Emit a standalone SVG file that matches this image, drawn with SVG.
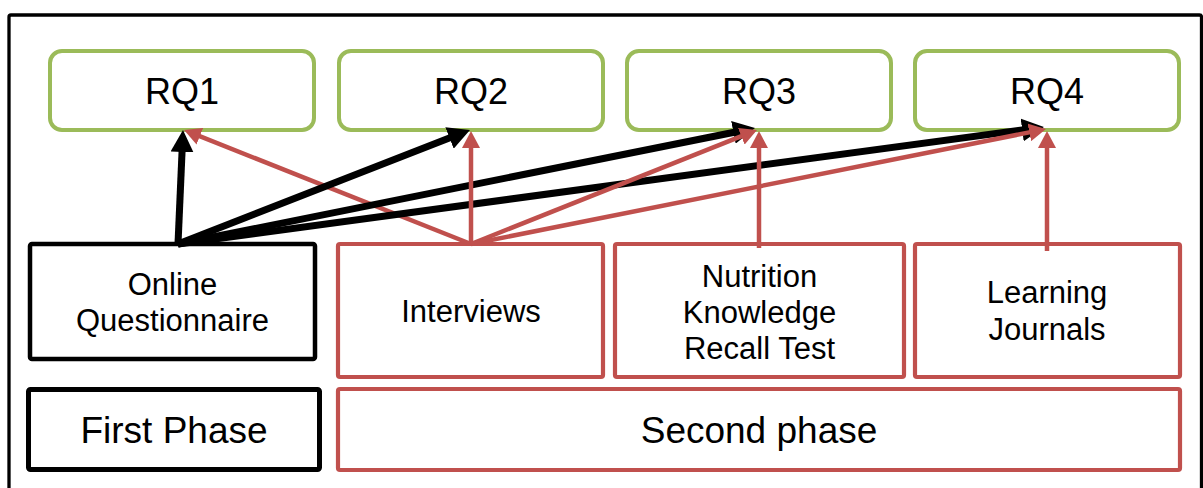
<svg xmlns="http://www.w3.org/2000/svg" width="1203" height="488" viewBox="0 0 1203 488">
  <style>
    .frame { fill: #ffffff; stroke: #000000; stroke-width: 3.3; }
    .rq { fill: #ffffff; stroke: #9BBB59; stroke-width: 4; }
    .method-black { fill: #ffffff; stroke: #000000; stroke-width: 4.5; stroke-linejoin: round; }
    .method-red { fill: #ffffff; stroke: #C0504D; stroke-width: 4.2; stroke-linejoin: round; }
    .phase-black { fill: #ffffff; stroke: #000000; stroke-width: 5; stroke-linejoin: round; }
    .label { font-family: "Liberation Sans", Arial, sans-serif; fill: #000000; text-anchor: middle; }
    .big { font-size: 36px; }
    .phase { font-size: 37px; }
    .small { font-size: 31px; }
    .link-black { stroke: #000000; stroke-width: 7; fill: none; marker-end: url(#head-black); }
    .link-red { stroke: #C0504D; stroke-width: 4.5; fill: none; marker-end: url(#head-red); }
  </style>
  <defs>
    <marker id="head-black" markerUnits="userSpaceOnUse" markerWidth="22" markerHeight="23" refX="6" refY="11.5" orient="auto">
      <path d="M0,0 L22,11.5 L0,23 z" fill="#000000"/>
    </marker>
    <marker id="head-red" markerUnits="userSpaceOnUse" markerWidth="17" markerHeight="18" refX="5" refY="9" orient="auto">
      <path d="M0,0 L17,9 L0,18 z" fill="#C0504D"/>
    </marker>
  </defs>

  <!-- outer frame -->
  <rect class="frame" x="9" y="15" width="1192.5" height="500" rx="2"/>

  <!-- research questions -->
  <g id="rq1">
    <rect class="rq" x="50" y="51" width="264" height="79" rx="12"/>
    <text class="label big" x="182" y="104">RQ1</text>
  </g>
  <g id="rq2">
    <rect class="rq" x="339" y="51" width="264" height="79" rx="12"/>
    <text class="label big" x="471" y="104">RQ2</text>
  </g>
  <g id="rq3">
    <rect class="rq" x="627" y="51" width="264" height="79" rx="12"/>
    <text class="label big" x="759" y="104">RQ3</text>
  </g>
  <g id="rq4">
    <rect class="rq" x="915" y="51" width="264" height="79" rx="12"/>
    <text class="label big" x="1047" y="104">RQ4</text>
  </g>

  <!-- data collection methods -->
  <g id="online-questionnaire">
    <rect class="method-black" x="30" y="244" width="285" height="115" rx="2"/>
    <text class="label small" x="172.5" y="295">Online</text>
    <text class="label small" x="172.5" y="331">Questionnaire</text>
  </g>
  <g id="interviews">
    <rect class="method-red" x="338" y="244" width="265" height="133" rx="2"/>
    <text class="label small" x="471" y="322">Interviews</text>
  </g>
  <g id="nutrition-test">
    <rect class="method-red" x="615" y="244" width="289" height="133" rx="2"/>
    <text class="label small" x="759.5" y="287">Nutrition</text>
    <text class="label small" x="759.5" y="323">Knowledge</text>
    <text class="label small" x="759.5" y="359">Recall Test</text>
  </g>
  <g id="learning-journals">
    <rect class="method-red" x="915" y="244" width="265" height="133" rx="2"/>
    <text class="label small" x="1047" y="303">Learning</text>
    <text class="label small" x="1047" y="340">Journals</text>
  </g>

  <!-- phases -->
  <g id="first-phase">
    <rect class="phase-black" x="28.5" y="389.5" width="291" height="80" rx="2"/>
    <text class="label phase" x="174" y="443">First Phase</text>
  </g>
  <g id="second-phase">
    <rect class="method-red" x="338" y="389" width="842" height="81" rx="2"/>
    <text class="label phase" x="759" y="443">Second phase</text>
  </g>

  <!-- connectors -->
  <g id="connectors">
    <line class="link-red" x1="471" y1="244" x2="195.2" y2="134.4"/>
    <line class="link-black" x1="178" y1="244" x2="182.3" y2="146"/>
    <line class="link-black" x1="178" y1="244" x2="455.1" y2="135.8"/>
    <line class="link-black" x1="178" y1="244" x2="739.3" y2="131.2"/>
    <line class="link-black" x1="178" y1="244" x2="1028.1" y2="129.1"/>
    <line class="link-red" x1="471" y1="244" x2="471" y2="143"/>
    <line class="link-red" x1="471" y1="244" x2="745.9" y2="134.4"/>
    <line class="link-red" x1="471" y1="244" x2="1034.2" y2="131.4"/>
    <line class="link-red" x1="759" y1="248" x2="759" y2="143"/>
    <line class="link-red" x1="1047" y1="251" x2="1047" y2="143"/>
  </g>
</svg>
